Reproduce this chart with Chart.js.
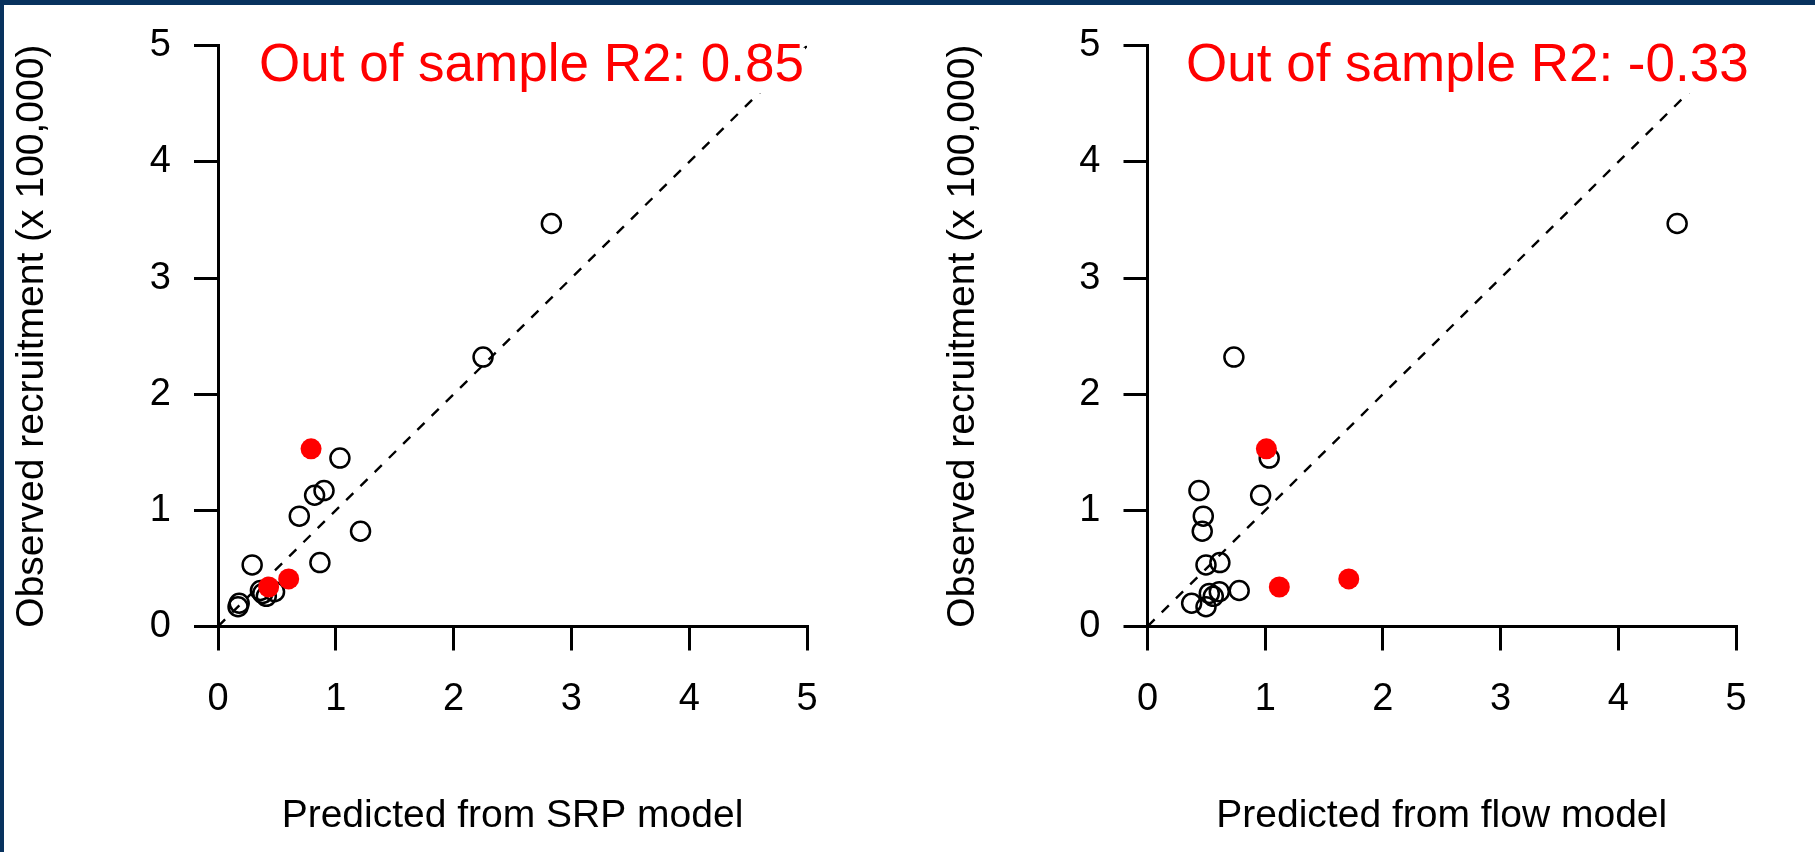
<!DOCTYPE html>
<html><head><meta charset="utf-8">
<script src="https://cdn.jsdelivr.net/npm/chart.js@4.4.1/dist/chart.umd.min.js"></script>
<style>
html,body{margin:0;padding:0;background:#fff;width:1815px;height:852px;overflow:hidden;}
#c1{position:absolute;left:0;top:0;}
#c2{position:absolute;left:907px;top:0;}
.bt{position:absolute;left:0;top:0;width:1815px;height:5px;background:#08325e;}
.bl{position:absolute;left:0;top:0;width:4px;height:852px;background:#08325e;}
</style></head><body>
<canvas id="c1" width="907" height="852"></canvas>
<canvas id="c2" width="908" height="852"></canvas>
<div class="bt"></div><div class="bl"></div>
<script>
// Observed recruitment (x 100,000) for the in-sample years (open circles)
const observedOpen = [3.47, 2.32, 1.45, 1.17, 1.13, 0.95, 0.82, 0.55, 0.53, 0.31, 0.30, 0.285, 0.26, 0.20, 0.17];
// Predictions from the SRP model for those years
const srpOpen = [2.83, 2.25, 1.035, 0.90, 0.82, 0.69, 1.21, 0.865, 0.29, 0.36, 0.48, 0.38, 0.41, 0.18, 0.17];
// Predictions from the flow model for those years
const flowOpen = [4.50, 0.734, 1.034, 0.437, 0.961, 0.474, 0.465, 0.615, 0.497, 0.779, 0.610, 0.525, 0.559, 0.375, 0.497];
// Held-out (out of sample) years (filled red points)
const observedHeld = [1.53, 0.41, 0.34];
const srpHeld = [0.79, 0.60, 0.43];
const flowHeld = [1.01, 1.71, 1.12];
// 1:1 reference line
const oneToOne = [0, 5];
// Axis tick labels
const tickValues = [0, 1, 2, 3, 4, 5];
// Texts
const r2Labels = ['Out of sample R2: 0.85', 'Out of sample R2: -0.33'];
const xTitles = ['Predicted from SRP model', 'Predicted from flow model'];
const yTitle = 'Observed recruitment (x 100,000)';

const FONT = '"Liberation Sans", Arial, Helvetica, sans-serif';

const r2Plugin = {
  id: 'r2text',
  afterDatasetsDraw(chart, args, opts) {
    const ctx = chart.ctx, a = chart.chartArea;
    ctx.save();
    ctx.font = '53px ' + FONT;
    const x = a.left + opts.dx;
    const w = ctx.measureText(opts.text).width;
    ctx.fillStyle = '#ffffff';
    ctx.fillRect(x - 4, a.top + 2, w + 5, 93 - (a.top + 2));
    ctx.fillStyle = '#ff0000';
    ctx.textBaseline = 'alphabetic';
    ctx.textAlign = 'left';
    ctx.fillText(opts.text, x, a.top + 35);
    ctx.restore();
  }
};

function pts(xs, ys) { return xs.map((x, i) => ({x: x, y: ys[i]})); }

function makeChart(id, k, xs, heldXs, yAxisWidth, yTitlePad, rightPad, textDx) {
  return new Chart(document.getElementById(id), {
    type: 'scatter',
    data: {
      datasets: [
        {
          label: 'held',
          data: pts(heldXs, observedHeld),
          pointStyle: 'circle',
          pointRadius: 10.5,
          pointBackgroundColor: '#ff0000',
          pointBorderColor: '#ff0000',
          pointBorderWidth: 0,
          order: 0
        },
        {
          type: 'line',
          label: '1:1',
          data: pts(oneToOne, oneToOne),
          borderColor: '#000',
          borderWidth: 2.4,
          borderDash: [10, 10],
          pointRadius: 0,
          fill: false,
          order: 1
        },
        {
          label: 'open',
          data: pts(xs, observedOpen),
          pointStyle: 'circle',
          pointRadius: 9.5,
          pointBackgroundColor: 'rgba(0,0,0,0)',
          pointBorderColor: '#000',
          pointBorderWidth: 2.5,
          order: 2
        }
      ]
    },
    options: {
      responsive: false,
      animation: false,
      events: [],
      layout: {padding: {left: 0, top: 44.6, right: rightPad, bottom: 0}},
      plugins: {
        legend: {display: false},
        tooltip: {enabled: false},
        r2text: {text: r2Labels[k], dx: textDx}
      },
      scales: {
        x: {
          type: 'linear', min: 0, max: 5,
          afterBuildTicks: s => { s.ticks = tickValues.map(v => ({value: v})); },
          afterFit: s => { s.height = 225.5; },
          grid: {drawOnChartArea: false, drawTicks: true, tickLength: 24, lineWidth: 3, color: '#000'},
          border: {display: true, width: 3, color: '#000'},
          ticks: {color: '#000', font: {family: FONT, size: 38}, padding: 26.5, maxRotation: 0, autoSkip: false},
          title: {display: true, text: xTitles[k], color: '#000', font: {family: FONT, size: 39}, padding: {top: 0, bottom: 12.6}}
        },
        y: {
          type: 'linear', min: 0, max: 5,
          afterBuildTicks: s => { s.ticks = tickValues.map(v => ({value: v})); },
          afterFit: s => { s.width = yAxisWidth; },
          grid: {drawOnChartArea: false, drawTicks: true, tickLength: 24, lineWidth: 3, color: '#000'},
          border: {display: true, width: 3, color: '#000'},
          ticks: {color: '#000', font: {family: FONT, size: 38}, padding: 23, crossAlign: 'center', autoSkip: false},
          title: {display: true, text: yTitle, color: '#000', font: {family: FONT, size: 39}, padding: {top: yTitlePad, bottom: 0}}
        }
      }
    },
    plugins: [r2Plugin]
  });
}

makeChart('c1', 0, srpOpen, srpHeld, 218, 8.6, 100, 41);
makeChart('c2', 1, flowOpen, flowHeld, 240.5, 32.6, 79, 38.5);
</script>
</body></html>
